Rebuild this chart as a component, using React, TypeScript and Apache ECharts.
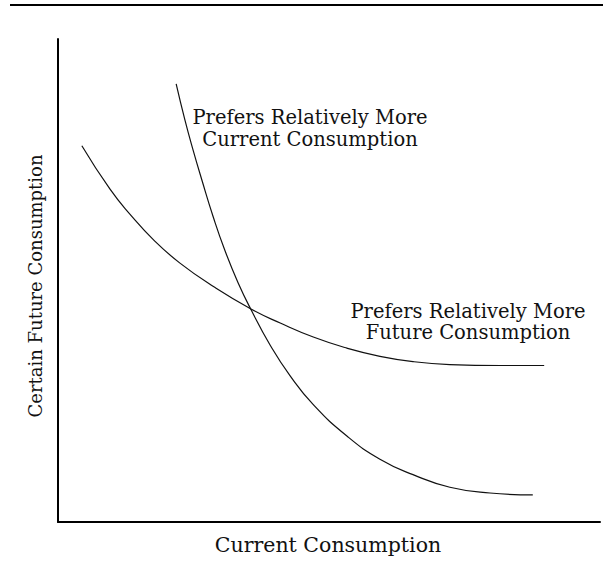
import React, { useEffect, useRef } from "react";
import * as echarts from "echarts";

// Curve preferring relatively more future consumption (flatter)
const futureX = [0.44, 0.96, 1.33, 1.79, 2.25, 2.86, 3.56, 4.1, 4.71, 5.33, 5.94, 6.55, 7.23, 8.16, 8.97];
const futureY = [7.79, 6.89, 6.37, 5.81, 5.36, 4.88, 4.41, 4.12, 3.83, 3.6, 3.43, 3.32, 3.26, 3.24, 3.24];

// Curve preferring relatively more current consumption (steeper)
const currentX = [2.18, 2.34, 2.49, 2.66, 2.86, 3.08, 3.32, 3.56, 3.91, 4.28, 4.71, 5.33, 5.94, 6.55, 7.23, 7.97, 8.76];
const currentY = [9.07, 8.33, 7.71, 7.06, 6.33, 5.62, 4.96, 4.4, 3.67, 3.03, 2.43, 1.78, 1.3, 0.98, 0.72, 0.6, 0.56];

const xTitle = "Current Consumption";
const yTitle = "Certain Future Consumption";
const currentLabel = ["Prefers Relatively More", "Current Consumption"];
const futureLabel = ["Prefers Relatively More", "Future Consumption"];

const FONT = "'DejaVu Serif', serif";

export default function App() {
  const ref = useRef<HTMLDivElement>(null);
  useEffect(() => {
    if (!ref.current) return;
    const chart = echarts.init(ref.current, null, { renderer: "svg" });
    const pair = (xs: number[], ys: number[]) => xs.map((x, i) => [x, ys[i]]);
    const textStyle = { fill: "#111", font: `19.5px ${FONT}`, textAlign: "center", textVerticalAlign: "middle" };
    chart.setOption({
      animation: false,
      backgroundColor: "#fff",
      grid: { left: 58, right: 3, top: 39, bottom: 41 },
      xAxis: {
        type: "value",
        min: 0,
        max: 10,
        axisLine: { show: true, lineStyle: { color: "#000", width: 2 } },
        axisTick: { show: false },
        axisLabel: { show: false },
        splitLine: { show: false },
      },
      yAxis: {
        type: "value",
        min: 0,
        max: 10,
        axisLine: { show: true, lineStyle: { color: "#000", width: 2 } },
        axisTick: { show: false },
        axisLabel: { show: false },
        splitLine: { show: false },
      },
      series: [
        {
          type: "line",
          data: pair(futureX, futureY),
          smooth: 0.5,
          showSymbol: false,
          lineStyle: { color: "#111", width: 1.2 },
        },
        {
          type: "line",
          data: pair(currentX, currentY),
          smooth: 0.5,
          showSymbol: false,
          lineStyle: { color: "#111", width: 1.2 },
        },
      ],
      graphic: [
        { type: "line", shape: { x1: 10, y1: 5, x2: 603, y2: 5 }, style: { stroke: "#000", lineWidth: 2 } },
        { type: "text", x: 328, y: 545, style: { ...textStyle, text: xTitle, font: `20.5px ${FONT}` } },
        { type: "text", x: 35, y: 286, rotation: Math.PI / 2, style: { ...textStyle, text: yTitle, font: `18px ${FONT}` } },
        { type: "text", x: 310, y: 117, style: { ...textStyle, text: currentLabel[0] } },
        { type: "text", x: 310, y: 139, style: { ...textStyle, text: currentLabel[1] } },
        { type: "text", x: 468, y: 311, style: { ...textStyle, text: futureLabel[0] } },
        { type: "text", x: 468, y: 332, style: { ...textStyle, text: futureLabel[1] } },
      ],
    });
    return () => chart.dispose();
  }, []);
  return <div ref={ref} style={{ position: "absolute", left: 0, top: 0, width: 603, height: 563 }} />;
}
